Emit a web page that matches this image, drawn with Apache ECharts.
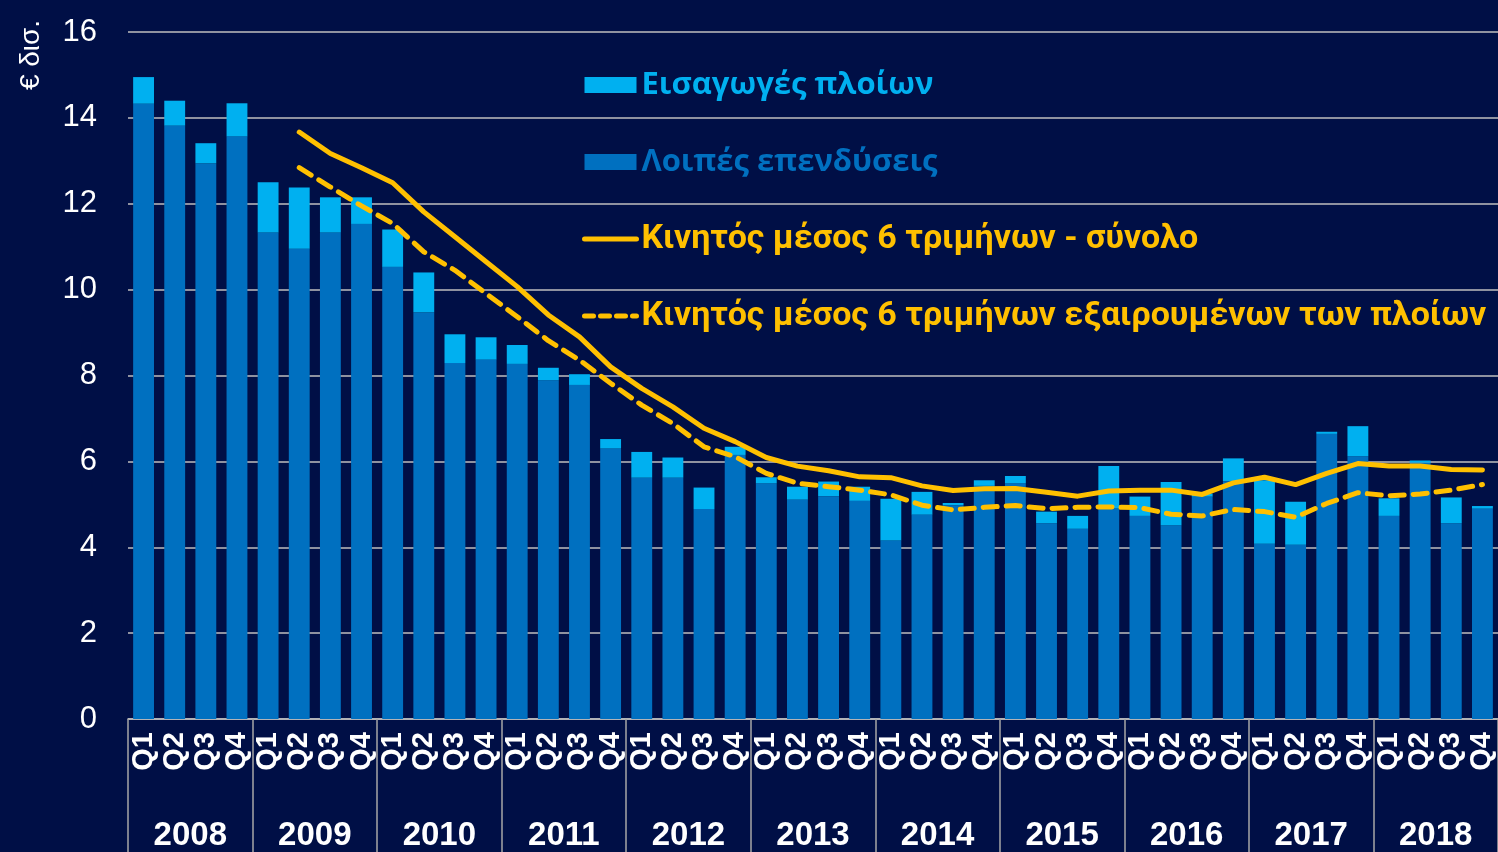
<!DOCTYPE html>
<html>
<head>
<meta charset="utf-8">
<script src="https://cdn.jsdelivr.net/npm/echarts@6/dist/echarts.min.js"></script>
<style>
  html, body { margin: 0; padding: 0; background: #000f46; }
  #chart { width: 1498px; height: 852px; }
</style>
</head>
<body>
<div id="chart"></div>
<script>
// categories
const years = ['2008', '2009', '2010', '2011', '2012', '2013', '2014', '2015', '2016', '2017', '2018'];
const quarters = years.flatMap(() => ['Q1', 'Q2', 'Q3', 'Q4']);

// € δισ. - λοιπές επενδύσεις (σκούρο μπλε)
const otherInvestment = [
  14.33, 13.82, 12.94, 13.57,
  11.33, 10.95, 11.33, 11.53,
  10.53, 9.47, 8.29, 8.37,
  8.27, 7.89, 7.78, 6.30,
  5.62, 5.62, 4.89, 6.15,
  5.49, 5.11, 5.19, 5.08,
  4.16, 4.76, 4.98, 5.43,
  5.49, 4.56, 4.43, 4.90,
  4.73, 4.51, 5.18, 5.54,
  4.08, 4.06, 6.64, 6.12,
  4.73, 5.97, 4.56, 4.90
];

// εισαγωγές πλοίων (γαλάζιο, πάνω στη στοίβα)
const shipImports = [
  0.62, 0.58, 0.47, 0.77,
  1.17, 1.43, 0.82, 0.62,
  0.87, 0.93, 0.67, 0.52,
  0.44, 0.29, 0.25, 0.22,
  0.60, 0.47, 0.50, 0.19,
  0.14, 0.30, 0.34, 0.33,
  0.97, 0.53, 0.05, 0.13,
  0.17, 0.27, 0.30, 0.99,
  0.45, 1.01, 0.07, 0.53,
  1.48, 1.00, 0.05, 0.70,
  0.41, 0.05, 0.60, 0.06
];

// κινητός μέσος 6 τριμήνων - σύνολο
const maTotal = [
  '-', '-', '-', '-',
  '-', 13.67, 13.17, 12.84,
  12.49, 11.81, 11.23, 10.65,
  10.07, 9.41, 8.90, 8.20,
  7.70, 7.27, 6.77, 6.46,
  6.09, 5.89, 5.78, 5.64,
  5.62, 5.43, 5.32, 5.36,
  5.37, 5.28, 5.19, 5.31,
  5.33, 5.33, 5.23, 5.50,
  5.63, 5.46, 5.72, 5.95,
  5.89, 5.89, 5.81, 5.80
];

// κινητός μέσος 6 τριμήνων εξαιρουμένων των πλοίων
const maExShips = [
  '-', '-', '-', '-',
  '-', 12.84, 12.39, 11.95,
  11.54, 10.88, 10.45, 9.91,
  9.37, 8.81, 8.36, 7.82,
  7.31, 6.88, 6.34, 6.11,
  5.72, 5.49, 5.41, 5.33,
  5.22, 4.98, 4.87, 4.93,
  4.97, 4.90, 4.93, 4.94,
  4.92, 4.77, 4.73, 4.88,
  4.83, 4.70, 5.02, 5.27,
  5.20, 5.24, 5.33, 5.46
];

const yTicks = { min: 0, max: 16, interval: 2 };

const LIGHT = '#00b0f0';
const DARK = '#0070c0';
const GOLD = '#ffc000';
const GRID = '#bfbfbf';

const chart = echarts.init(document.getElementById('chart'));

const blueText = (c) => ({ color: c, fontFamily: '"Open Sans", sans-serif', fontWeight: 'bold', fontSize: 31, lineHeight: 40 });
const goldText = { color: GOLD, fontFamily: 'Roboto, "Liberation Sans", sans-serif', fontWeight: 'bold', fontSize: 34, lineHeight: 40 };

const option = {
  backgroundColor: '#000f46',
  animation: false,
  graphic: [{
    type: 'text',
    x: 31, y: 55,
    rotation: Math.PI / 2,
    style: {
      text: '€ δισ.',
      fill: '#ffffff',
      font: '28px "Liberation Sans", Arial, sans-serif',
      textAlign: 'center',
      textVerticalAlign: 'middle'
    }
  }],
  legend: {
    orient: 'vertical',
    left: 582,
    top: 65,
    padding: 0,
    itemWidth: 52,
    itemHeight: 16,
    itemGap: 37,
    data: [
      { name: 'Εισαγωγές πλοίων', icon: 'rect', textStyle: blueText(LIGHT) },
      { name: 'Λοιπές επενδύσεις', icon: 'rect', textStyle: blueText(DARK) },
      { name: 'Κινητός μέσος 6 τριμήνων - σύνολο', itemStyle: { opacity: 0 },
        lineStyle: { width: 5, cap: 'round' }, textStyle: goldText },
      { name: 'Κινητός μέσος 6 τριμήνων εξαιρουμένων των πλοίων', itemStyle: { opacity: 0 },
        lineStyle: { width: 5, type: [9, 7], cap: 'round' }, textStyle: goldText }
    ]
  },
  grid: { left: 128, top: 32, width: 1373, height: 687, containLabel: false },
  xAxis: [
    {
      type: 'category',
      data: quarters,
      position: 'bottom',
      axisLine: { show: true, lineStyle: { color: GRID, width: 1.5 } },
      axisTick: { show: false },
      axisLabel: {
        rotate: 90,
        interval: 0,
        margin: 13,
        color: '#ffffff',
        fontFamily: '"Liberation Sans", Arial, sans-serif',
        fontWeight: 'bold',
        fontSize: 29
      }
    },
    {
      type: 'category',
      data: years,
      position: 'bottom',
      axisLine: { show: false },
      axisTick: { show: true, length: 140, lineStyle: { color: '#a6a6a6', width: 1.5 } },
      axisLabel: {
        interval: 0,
        margin: 100,
        color: '#ffffff',
        fontFamily: '"Liberation Sans", Arial, sans-serif',
        fontWeight: 'bold',
        fontSize: 33
      }
    }
  ],
  yAxis: {
    type: 'value',
    min: yTicks.min,
    max: yTicks.max,
    interval: yTicks.interval,
    axisLine: { show: false },
    axisTick: { show: false },
    axisLabel: {
      margin: 31,
      color: '#ffffff',
      fontFamily: '"Liberation Sans", Arial, sans-serif',
      fontSize: 31
    },
    splitLine: { lineStyle: { color: GRID, width: 1.5 } }
  },
  series: [
    {
      name: 'Λοιπές επενδύσεις',
      type: 'bar',
      stack: 'total',
      barWidth: '67%',
      itemStyle: { color: DARK },
      data: otherInvestment
    },
    {
      name: 'Εισαγωγές πλοίων',
      type: 'bar',
      stack: 'total',
      barWidth: '67%',
      itemStyle: { color: LIGHT },
      data: shipImports
    },
    {
      name: 'Κινητός μέσος 6 τριμήνων - σύνολο',
      type: 'line',
      symbol: 'none',
      lineStyle: { color: GOLD, width: 5, cap: 'round', join: 'round' },
      itemStyle: { color: GOLD },
      data: maTotal,
      z: 5
    },
    {
      name: 'Κινητός μέσος 6 τριμήνων εξαιρουμένων των πλοίων',
      type: 'line',
      symbol: 'none',
      lineStyle: { color: GOLD, width: 5, type: [14, 9], cap: 'round', join: 'round' },
      itemStyle: { color: GOLD },
      data: maExShips,
      z: 5
    }
  ]
};

chart.setOption(option);
</script>
</body>
</html>
